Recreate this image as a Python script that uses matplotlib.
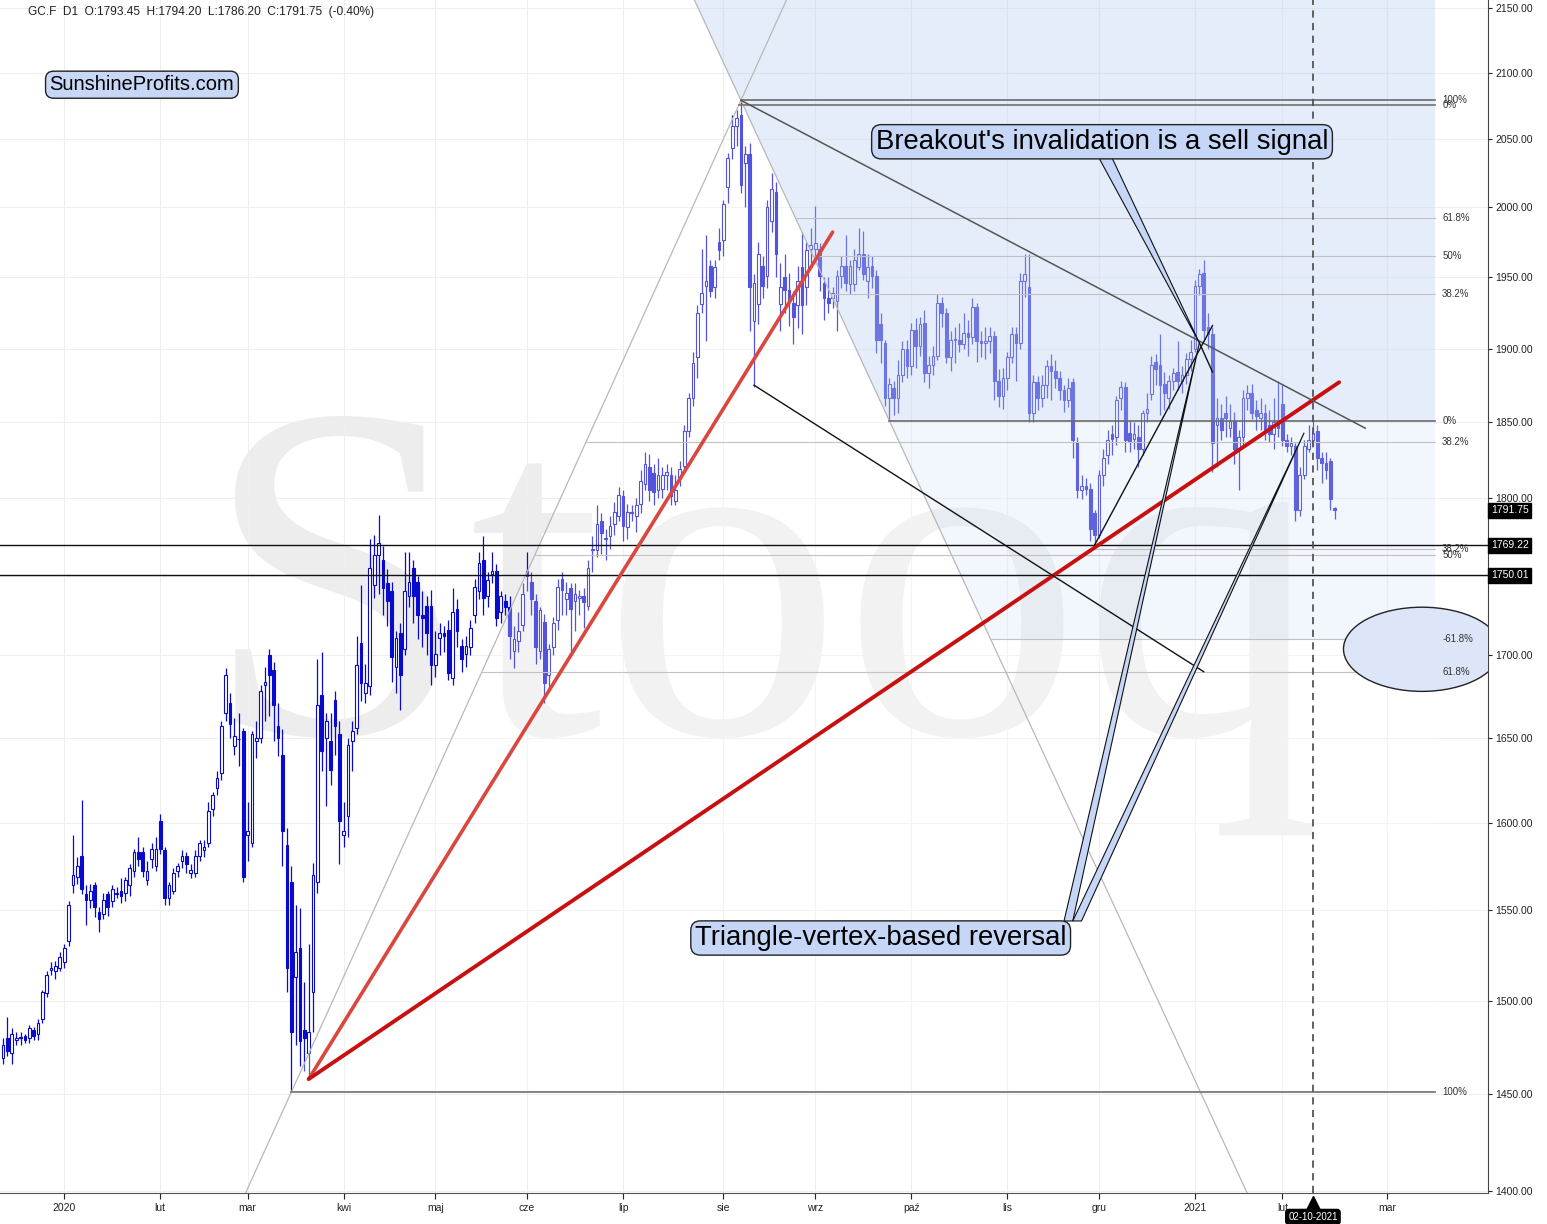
import numpy as np
import pandas as pd
import matplotlib
matplotlib.use('Agg')
import matplotlib.pyplot as plt
from matplotlib.patches import Ellipse, Polygon
from matplotlib.transforms import blended_transform_factory
from matplotlib.ticker import FixedLocator, NullLocator, FuncFormatter

plt.rcParams['font.family'] = ['Liberation Sans', 'DejaVu Sans']

# --- dzienne notowania GC.F ---
opens = [
    # gru 2019
    1469, 1480, 1472, 1479, 1480, 1481, 1480, 1484, 1482, 1490, 1504, 1517, 1516, 1518,
    # sty 2020
    1521, 1533, 1564, 1569, 1581, 1559, 1556, 1564, 1549, 1548, 1559, 1555, 1559, 1561, 1560, 1564, 1572, 1583, 1583, 1567, 1579, 1575,
    # lut
    1601, 1584, 1557, 1561, 1572, 1578, 1581, 1571, 1571, 1581, 1584, 1588, 1608, 1620, 1629, 1665, 1671, 1645, 1649, 1654,
    # mar
    1593, 1588, 1648, 1650, 1682, 1700, 1691, 1657, 1640, 1587, 1566, 1513, 1529, 1484, 1472, 1505, 1566, 1676, 1650, 1648, 1673, 1652,
    # kwi
    1593, 1604, 1648, 1656, 1708, 1677, 1681, 1744, 1763, 1760, 1745, 1740, 1693, 1714, 1704, 1737, 1755, 1746, 1725, 1731, 1731,
    # maj
    1694, 1711, 1714, 1716, 1686, 1729, 1706, 1701, 1705, 1725, 1740, 1760, 1737, 1751, 1753, 1727, 1734, 1730, 1703, 1709, 1719,
    # cze
    1753, 1746, 1734, 1703, 1721, 1688, 1705, 1722, 1748, 1735, 1742, 1734, 1736, 1737, 1731, 1766, 1766, 1785, 1774, 1775, 1783, 1788,
    # lip
    1801, 1781, 1791, 1788, 1796, 1809, 1820, 1816, 1805, 1806, 1815, 1815, 1798, 1813, 1821, 1844, 1866, 1894, 1931, 1944, 1958, 1943, 1975,
    # sie
    1976, 2015, 2043, 2060, 2068, 2032, 2039, 1919, 1931, 1958, 1951, 1990, 2011, 1931, 1950, 1941, 1932, 1930, 1957, 1943, 1970,
    # wrz
    1970, 1970, 1946, 1935, 1935, 1933, 1951, 1958, 1945, 1945, 1957, 1966, 1947, 1958, 1951, 1917, 1904, 1866, 1873, 1866, 1882, 1900,
    # paz
    1888, 1913, 1902, 1918, 1883, 1889, 1895, 1932, 1925, 1894, 1906, 1906, 1903, 1911, 1908, 1929, 1905, 1904, 1905, 1909, 1878, 1868,
    # lis
    1880, 1894, 1910, 1904, 1947, 1943, 1856, 1877, 1866, 1875, 1888, 1885, 1880, 1872, 1865, 1877, 1837, 1805, 1808, 1806, 1790,
    # gru
    1776, 1815, 1828, 1842, 1840, 1866, 1874, 1843, 1839, 1840, 1832, 1856, 1869, 1891, 1889, 1876, 1866, 1878, 1884, 1878, 1882, 1893,
    # sty 2021
    1900, 1944, 1953, 1915, 1910, 1848, 1853, 1856, 1846, 1851, 1832, 1840, 1866, 1870, 1858, 1853, 1856, 1848, 1842, 1850,
    # lut 2021
    1862, 1838, 1834, 1834, 1792, 1815, 1832, 1838, 1844, 1826, 1823, 1824, 1793.45,
]
highs = [
    1480, 1491, 1485, 1483, 1483, 1482, 1487, 1486, 1490, 1506, 1516, 1521, 1522, 1527,
    1531, 1555, 1593, 1580, 1613, 1564, 1565, 1566, 1552, 1560, 1561, 1564, 1563, 1568, 1569, 1576, 1585, 1592, 1586, 1578, 1588, 1592,
    1605, 1586, 1566, 1574, 1577, 1584, 1583, 1576, 1584, 1590, 1590, 1612, 1618, 1630, 1660, 1692, 1677, 1662, 1665, 1656,
    1612, 1654, 1660, 1682, 1693, 1704, 1696, 1671, 1655, 1597, 1575, 1553, 1551, 1510, 1531, 1577, 1698, 1702, 1665, 1665, 1678, 1660,
    1612, 1650, 1660, 1712, 1744, 1695, 1773, 1776, 1789, 1769, 1754, 1746, 1715, 1720, 1765, 1765, 1760, 1750, 1740, 1737, 1741,
    1715, 1720, 1718, 1722, 1742, 1735, 1710, 1712, 1722, 1748, 1765, 1775, 1752, 1765, 1757, 1740, 1738, 1737, 1718, 1727, 1745,
    1765, 1752, 1738, 1730, 1726, 1707, 1724, 1748, 1752, 1746, 1745, 1745, 1741, 1742, 1760, 1775, 1795, 1790, 1780, 1788, 1797, 1807,
    1805, 1796, 1795, 1800, 1818, 1830, 1829, 1822, 1826, 1820, 1822, 1820, 1815, 1824, 1848, 1870, 1898, 1930, 1970, 1980, 1962, 1962, 1985,
    2005, 2040, 2068, 2072, 2079, 2045, 2047, 1952, 1975, 1965, 2005, 2025, 2018, 1960, 1966, 1953, 1940, 1958, 1982, 1975, 1985,
    2001, 1974, 1950, 1950, 1943, 1955, 1965, 1980, 1962, 1970, 1985, 1983, 1966, 1965, 1955, 1925, 1906, 1880, 1878, 1892, 1905, 1906,
    1918, 1921, 1922, 1927, 1895, 1902, 1938, 1936, 1928, 1912, 1915, 1918, 1925, 1920, 1935, 1932, 1912, 1915, 1915, 1912, 1886, 1887,
    1898, 1915, 1915, 1953, 1966, 1966, 1882, 1881, 1882, 1892, 1896, 1892, 1885, 1875, 1880, 1880, 1840, 1815, 1813, 1810, 1792,
    1818, 1832, 1845, 1848, 1868, 1878, 1877, 1851, 1850, 1848, 1858, 1870, 1895, 1896, 1910, 1884, 1882, 1887, 1905, 1888, 1897, 1906,
    1948, 1956, 1962, 1925, 1915, 1866, 1862, 1868, 1862, 1857, 1845, 1872, 1875, 1876, 1865, 1866, 1862, 1858, 1866, 1878,
    1876, 1842, 1840, 1836, 1820, 1838, 1848, 1851, 1848, 1830, 1830, 1826, 1794.20,
]
lows = [
    1466, 1470, 1466, 1476, 1476, 1477, 1477, 1479, 1479, 1488, 1502, 1514, 1512, 1516,
    1518, 1530, 1560, 1565, 1559, 1542, 1551, 1546, 1538, 1545, 1547, 1552, 1557, 1554, 1555, 1558, 1569, 1575, 1569, 1564, 1574, 1572,
    1582, 1553, 1553, 1559, 1569, 1574, 1571, 1568, 1569, 1578, 1580, 1586, 1604, 1616, 1625, 1660, 1650, 1640, 1633, 1566,
    1578, 1586, 1638, 1647, 1660, 1663, 1648, 1639, 1575, 1505, 1451, 1476, 1465, 1462, 1458, 1483, 1560, 1630, 1610, 1622, 1640, 1576,
    1586, 1592, 1630, 1652, 1672, 1671, 1676, 1736, 1738, 1725, 1718, 1684, 1677, 1667, 1700, 1730, 1720, 1710, 1705, 1700, 1682,
    1687, 1700, 1702, 1685, 1682, 1705, 1690, 1693, 1700, 1720, 1735, 1725, 1730, 1745, 1718, 1720, 1725, 1698, 1692, 1702, 1715,
    1740, 1725, 1695, 1698, 1671, 1680, 1700, 1716, 1725, 1725, 1703, 1715, 1725, 1717, 1728, 1752, 1762, 1764, 1760, 1767, 1776, 1785,
    1772, 1773, 1785, 1778, 1790, 1805, 1798, 1795, 1800, 1800, 1805, 1795, 1795, 1808, 1817, 1840, 1861, 1880, 1925, 1905, 1936, 1935, 1962,
    1965, 2003, 2035, 2045, 2010, 2000, 1912, 1874, 1917, 1935, 1942, 1982, 1950, 1912, 1925, 1916, 1903, 1914, 1910, 1930, 1960,
    1965, 1940, 1920, 1925, 1928, 1912, 1942, 1940, 1938, 1940, 1955, 1948, 1935, 1942, 1897, 1890, 1861, 1851, 1855, 1856, 1877, 1880,
    1882, 1887, 1895, 1877, 1873, 1882, 1892, 1915, 1890, 1885, 1890, 1898, 1900, 1895, 1903, 1891, 1894, 1893, 1897, 1865, 1860, 1859,
    1872, 1890, 1878, 1900, 1936, 1850, 1850, 1858, 1860, 1866, 1865, 1873, 1865, 1857, 1860, 1826, 1800, 1799, 1802, 1772, 1769.2,
    1774, 1808, 1822, 1828, 1835, 1858, 1830, 1830, 1832, 1820, 1828, 1850, 1865, 1875, 1855, 1858, 1859, 1872, 1872, 1870, 1876, 1885,
    1898, 1937, 1905, 1900, 1817, 1820, 1838, 1840, 1840, 1822, 1805, 1835, 1858, 1852, 1845, 1845, 1838, 1837, 1832, 1840,
    1834, 1830, 1828, 1785, 1788, 1812, 1830, 1834, 1818, 1810, 1812, 1792, 1786.20,
]
closes = [
    1476, 1473, 1482, 1480, 1480, 1479, 1485, 1481, 1488, 1505, 1514, 1518, 1519, 1524,
    1529, 1553, 1570, 1575, 1562, 1556, 1561, 1552, 1545, 1556, 1552, 1562, 1560, 1558, 1567, 1574, 1583, 1579, 1572, 1572, 1585, 1585,
    1585, 1557, 1564, 1571, 1575, 1581, 1576, 1573, 1581, 1588, 1586, 1607, 1616, 1626, 1657, 1688, 1658, 1651, 1649, 1569,
    1595, 1652, 1650, 1678, 1684, 1688, 1670, 1650, 1595, 1518, 1483, 1527, 1478, 1480, 1483, 1570, 1670, 1642, 1660, 1631, 1657, 1601,
    1595, 1646, 1654, 1694, 1683, 1683, 1755, 1763, 1771, 1742, 1734, 1699, 1711, 1688, 1740, 1746, 1737, 1725, 1723, 1714, 1694,
    1701, 1714, 1712, 1689, 1727, 1715, 1698, 1706, 1717, 1743, 1758, 1736, 1747, 1753, 1723, 1737, 1730, 1712, 1710, 1715, 1738,
    1750, 1735, 1705, 1728, 1683, 1704, 1720, 1743, 1741, 1739, 1729, 1738, 1737, 1733, 1755, 1767, 1783, 1777, 1773, 1782, 1791, 1802,
    1782, 1791, 1790, 1795, 1811, 1822, 1805, 1804, 1815, 1815, 1817, 1801, 1805, 1819, 1844, 1866, 1890, 1925, 1939, 1947, 1940, 1957, 1969,
    2002, 2036, 2060, 2066, 2016, 2039, 1943, 1946, 1966, 1944, 2000, 2013, 1966, 1943, 1941, 1933, 1922, 1947, 1930, 1969, 1973,
    1974, 1951, 1935, 1932, 1939, 1951, 1958, 1946, 1958, 1962, 1966, 1952, 1957, 1951, 1906, 1906, 1866, 1876, 1866, 1882, 1900, 1888,
    1913, 1902, 1917, 1883, 1889, 1895, 1932, 1925, 1894, 1906, 1907, 1903, 1911, 1908, 1929, 1905, 1904, 1905, 1909, 1878, 1868, 1880,
    1894, 1910, 1904, 1947, 1952, 1856, 1877, 1866, 1875, 1888, 1885, 1880, 1872, 1865, 1873, 1838, 1805, 1808, 1806, 1780, 1776,
    1815, 1826, 1838, 1839, 1865, 1874, 1838, 1837, 1842, 1832, 1856, 1859, 1889, 1886, 1875, 1870, 1878, 1883, 1878, 1882, 1893, 1898,
    1944, 1952, 1913, 1910, 1836, 1853, 1845, 1853, 1851, 1832, 1840, 1866, 1870, 1856, 1854, 1856, 1844, 1842, 1850, 1846,
    1838, 1834, 1836, 1792, 1815, 1834, 1838, 1843, 1826, 1823, 1818, 1798.95, 1791.75,
]

# dni bez notowań
holidays = ['2019-12-25', '2020-01-01', '2020-04-10', '2020-12-25', '2021-01-01']

month_labels = ['2020', 'lut', 'mar', 'kwi', 'maj', 'cze', 'lip', 'sie',
                'wrz', 'paź', 'lis', 'gru', '2021', 'lut', 'mar']
month_starts = pd.date_range('2020-01-01', '2021-03-01', freq='MS')

# poziomy poziome (linie czarne)
support_levels = [1769.22, 1750.01]

# punkty kotwiczące rysunków (data, cena)
march_low = ('2020-03-16', 1451)
march_pivot = ('2020-03-20', 1458)
aug_peak = ('2020-08-07', 2079)
sep_low = ('2020-09-24', 1851)
fib1_top = 2075.5
nov_low = ('2020-11-30', 1769.5)

dates = pd.bdate_range('2019-12-11', '2021-02-17')
dates = dates[~dates.isin(pd.to_datetime(holidays))]
o = np.array(opens, float)
h = np.array(highs, float)
l = np.array(lows, float)
c = np.array(closes, float)
assert len(o) == len(h) == len(l) == len(c) == len(dates)
last = dates[-1]


def xpos(day):
    day = pd.Timestamp(day)
    if day <= last:
        return float(np.searchsorted(dates, day))
    # po ostatniej sesji oś biegnie w dniach kalendarzowych
    return len(dates) - 1 + (day - last).days


def pt(anchor):
    return xpos(anchor[0]), anchor[1]


def on_line(p, a, b):
    # pozycja x, w ktorej prosta (w skali log) przez a i b osiaga cene p
    (x1, p1), (x2, p2) = a, b
    return x1 + (np.log(p) - np.log(p1)) / (np.log(p2) - np.log(p1)) * (x2 - x1)


fig = plt.figure(figsize=(15.47, 12.24), dpi=100)
ax = fig.add_axes([0, 31 / 1224, 1488 / 1547, 1193 / 1224])
ax.set_yscale('log')
ax.set_ylim(1399, 2156)
ax.set_xlim(-0.7, 340.1)

CANDLE = '#0a0acc'
k = np.arange(len(dates))
up = c >= o

# znak wodny
ax.text(0.512, 0.386, 'Stooq', transform=ax.transAxes, fontsize=345,
        family='Liberation Serif', color='#ededed', ha='center', va='baseline', zorder=0.5)

# swiece
ax.vlines(k, l, h, color=CANDLE, lw=0.9, zorder=2)
ax.bar(k, np.maximum(np.abs(c - o), 0.3), bottom=np.minimum(o, c), width=0.62,
       color=np.where(up, 'white', CANDLE), edgecolor=CANDLE, linewidth=0.8, zorder=2.1)

k_end = xpos('2021-03-12')
p_top = ax.get_ylim()[1]
lo, pk, sl = pt(march_low), pt(aug_peak), pt(sep_low)

# obszar retracementu 1 (rozjasnienie)
fib1_low = march_low[1]
poly1 = [(lo[0], fib1_low), (on_line(fib1_top, lo, pk), fib1_top), (k_end, fib1_top), (k_end, fib1_low)]
ax.add_patch(Polygon(poly1, closed=True, fc='white', ec='none', alpha=0.3, zorder=3))

# obszar retracementu 2 (niebieski)
SHADE = '#a9c4f2'
fib2_low, fib2_high = sep_low[1], aug_peak[1]
ext = fib2_low - 0.618 * (fib2_high - fib2_low)
poly2 = [(on_line(p_top, pk, sl), p_top), (k_end, p_top), (k_end, fib2_low), (sl[0], fib2_low)]
ax.add_patch(Polygon(poly2, closed=True, fc=SHADE, ec='none', alpha=0.3, zorder=3))
poly3 = [(sl[0], fib2_low), (k_end, fib2_low), (k_end, ext), (on_line(ext, pk, sl), ext)]
ax.add_patch(Polygon(poly3, closed=True, fc=SHADE, ec='none', alpha=0.14, zorder=3))

# linie ukosne przez dolek i szczyt
ax.axline(lo, pk, color='#b8b8b8', lw=0.9, zorder=4)
ax.axline(pk, sl, color='#b8b8b8', lw=0.9, zorder=4)

# poziomy Fibonacciego
lab_x = k_end + 1.6
for r, name in [(1.0, '100%'), (0.618, '61.8%'), (0.5, '50%'), (0.382, '38.2%'), (0.0, '0%')]:
    lvl = fib1_top - r * (fib1_top - fib1_low)
    x0 = on_line(lvl, lo, pk)
    strong = r in (0.0, 1.0)
    ax.plot([x0, k_end], [lvl, lvl], color='#7a7a7a' if strong else '#c2c2c2',
            lw=1.3 if strong else 0.8, zorder=4)
    ax.text(lab_x, lvl, name, fontsize=7, va='center', ha='left', color='#333', zorder=6)
for r, name in [(1.0, '100%'), (0.618, '61.8%'), (0.5, '50%'), (0.382, '38.2%'), (0.0, '0%'), (-0.618, '-61.8%')]:
    lvl = fib2_low + r * (fib2_high - fib2_low)
    x0 = on_line(lvl, pk, sl)
    strong = r in (0.0, 1.0)
    ax.plot([x0, k_end], [lvl, lvl], color='#6a6a6a' if strong else '#c2c2c2',
            lw=1.2 if strong else 0.8, zorder=4)
    ax.text(lab_x, lvl, name, fontsize=7, va='center', ha='left', color='#333', zorder=6)
lvl = 1766.8
ax.plot([xpos(nov_low[0]), k_end], [lvl, lvl], color='#c2c2c2', lw=0.8, zorder=4)
ax.text(lab_x, lvl, '38.2%', fontsize=7, va='center', ha='left', color='#333', zorder=6)

for lvl in support_levels:
    ax.axhline(lvl, color='#111', lw=1.0, zorder=4)

# linie trendu
pv = pt(march_pivot)
ax.plot([pv[0], xpos('2020-09-07')], [pv[1], 1982], color='#d9473f', lw=2.6, zorder=5,
        solid_capstyle='round')
ax.plot([pv[0], xpos('2021-02-18')], [pv[1], 1877], color='#c81010', lw=2.8, zorder=5,
        solid_capstyle='round')
ax.plot([pk[0], xpos('2021-02-24')], [pk[1], 1846], color='#555', lw=1.1, zorder=5)
ax.plot([xpos('2020-08-12'), xpos('2021-01-06')], [1875, 1690], color='#111', lw=1.0, zorder=5)
ax.plot([xpos(nov_low[0]), xpos('2021-01-08')], [nov_low[1], 1916], color='#111', lw=1.0, zorder=5)
ax.plot([xpos('2021-01-05'), xpos('2021-01-08')], [1904, 1884], color='#111', lw=1.0, zorder=5)

# data zaznaczona
mark_day = '2021-02-10'
ax.axvline(xpos(mark_day), color='#555', lw=1.3, ls=(0, (4, 3)), zorder=4)

# elipsa
ax.add_patch(Ellipse((xpos('2021-03-09'), 1704), 36, 52, fc='#dde5f8', ec='#222', lw=1.0, zorder=5))

# dymki z komentarzami
BOX = '#c6d6f6'
apex1 = (xpos('2021-01-05'), 1904)
apex2 = (xpos('2021-02-08'), 1843)
wedges = [
    [(xpos('2020-12-01'), 2036), (xpos('2020-12-04'), 2036), apex1],
    [(xpos('2020-11-19'), 1544), (xpos('2020-11-23'), 1544), apex1],
    [(xpos('2020-11-23'), 1544), (xpos('2020-11-25'), 1544), apex2],
]
for w in wedges:
    ax.add_patch(Polygon(w, closed=True, fc=BOX, ec='#111', lw=0.8, zorder=6))

bbox = dict(boxstyle='round,pad=0.15,rounding_size=0.35', fc=BOX, ec='#222', lw=1.0)
ax.text(xpos('2020-12-01') + 0.7, 2048, "Breakout's invalidation is a sell signal", fontsize=19.8,
        ha='center', va='center', bbox=bbox, zorder=7)
ax.text(xpos('2020-09-22'), 1534.5, 'Triangle-vertex-based reversal', fontsize=19.8,
        ha='center', va='center', bbox=bbox, zorder=7)
ax.text(0.0954, 0.929, 'SunshineProfits.com', transform=ax.transAxes, fontsize=14.5,
        ha='center', va='center', zorder=7,
        bbox=dict(boxstyle='round,pad=0.2,rounding_size=0.4', fc='#c8d7f5', ec='#222', lw=1.0))

# osie
ax.yaxis.tick_right()
ax.yaxis.set_major_locator(FixedLocator(np.arange(1400, 2151, 50)))
ax.yaxis.set_minor_locator(NullLocator())
# etykieta 1750 jest zasłonięta przez znacznik poziomu 1750.01
ax.yaxis.set_major_formatter(FuncFormatter(lambda v, p: '' if round(v) == 1750 else f'{v:.2f}'))
ax.set_xticks([xpos(d) for d in month_starts])
ax.set_xticklabels(month_labels)
ax.tick_params(axis='y', length=3, pad=2, labelsize=7.5, colors='#222')
ax.tick_params(axis='x', length=4, pad=3, labelsize=7.5, colors='#222')
ax.grid(True, color='#efefef', lw=0.8, zorder=0)
ax.set_axisbelow(True)
for s in ['left', 'top']:
    ax.spines[s].set_visible(False)
ax.spines['right'].set_color('#444')
ax.spines['bottom'].set_color('#555')

# etykiety cen po prawej
tr = blended_transform_factory(ax.transAxes, ax.transData)
for lvl in [c[-1]] + support_levels:
    ax.text(1.002, lvl, f'{lvl:.2f}', transform=tr, fontsize=7.5, color='white',
            ha='left', va='center', zorder=8,
            bbox=dict(boxstyle='square,pad=0.25', fc='black', ec='black'))

# znacznik daty pod osia
trx = blended_transform_factory(ax.transData, ax.transAxes)
ax.plot([xpos(mark_day)], [-0.009], marker='^', ms=11, color='black', transform=trx, clip_on=False)
ax.text(xpos(mark_day), -0.020, pd.Timestamp(mark_day).strftime('%m-%d-%Y'), transform=trx,
        fontsize=7, color='white', ha='center', va='center',
        bbox=dict(boxstyle='round,pad=0.25,rounding_size=0.3', fc='black', ec='black'))

chg = (c[-1] / c[-2] - 1) * 100
header = (f'GC.F  D1  O:{o[-1]:.2f}  H:{h[-1]:.2f}  L:{l[-1]:.2f}  '
          f'C:{c[-1]:.2f}  ({chg:.2f}%)')
fig.text(28 / 1547, 1 - 12 / 1224, header, fontsize=8.6, va='center', color='#222')

fig.savefig('out.png', dpi=100)
